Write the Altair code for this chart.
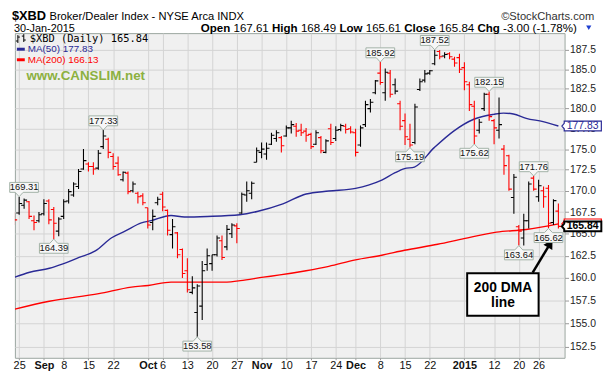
import altair as alt
import pandas as pd

# ---------------- data ----------------
# trading-day index: -1 = 22-Aug-2014 ... 109 = 30-Jan-2015
idx = list(range(-1, 110))
opens = [167.0, 167.4, 168.3, 168.7, 166.5, 166.5, 167.3, 168.8, 167.8, 165.3,
         167.0, 168.8, 169.5, 170.5, 172.6, 173.2, 172.9, 172.7, 175.3, 176.2,
         174.1, 173.3, 171.3, 172.1, 170.0, 169.7, 169.4, 168.0, 166.3, 168.6,
         169.6, 167.7, 164.9, 165.1, 163.2, 160.8, 158.4, 156.2, 156.9, 161.5,
         161.6, 162.6, 164.2, 163.5, 165.0, 165.9, 167.4, 169.5, 169.7, 173.4,
         174.6, 174.4, 175.6, 176.3, 176.4, 176.6, 177.6, 177.8, 177.3, 177.2,
         176.8, 175.6, 176.4, 174.6, 177.5, 176.3, 177.4, 177.8, 177.5, 177.0,
         175.5, 178.0, 180.0, 182.0, 184.5, 182.0, 184.5, 183.0, 180.6, 178.5,
         176.2, 175.8, 182.4, 183.6, 184.5, 185.7, 187.3, 186.7, 187.0, 186.3,
         186.5, 185.2, 183.0, 180.3, 177.3, 180.0, 181.8, 178.5, 177.3, 175.0,
         174.2, 169.2, 165.8, 164.5, 166.5, 171.5, 169.3, 170.0, 170.3, 166.3,
         167.61]
highs = [167.5, 169.31, 169.1, 168.8, 167.1, 167.5, 169.0, 169.0, 168.1, 166.9,
         169.0, 170.2, 171.0, 172.6, 175.0, 173.4, 173.4, 174.9, 177.33, 176.4,
         174.5, 174.1, 172.3, 172.3, 171.1, 169.9, 169.7, 168.0, 167.8, 169.3,
         169.9, 167.8, 166.7, 165.2, 163.3, 162.2, 160.2, 159.3, 161.9, 163.3,
         162.6, 164.8, 164.8, 166.0, 166.2, 166.2, 169.8, 171.1, 171.1, 175.2,
         175.8, 175.8, 177.0, 177.3, 176.6, 177.9, 178.5, 178.2, 178.1, 177.6,
         177.0, 177.3, 176.6, 176.2, 178.1, 177.8, 178.1, 178.1, 177.8, 177.5,
         177.9, 181.0, 181.2, 183.6, 185.92, 185.1, 184.9, 183.8, 181.0, 179.4,
         178.1, 180.6, 183.8, 184.9, 184.9, 187.52, 187.5, 187.2, 187.2, 186.6,
         187.0, 185.9, 183.4, 181.0, 178.7, 182.0, 182.15, 178.7, 181.4, 175.5,
         174.3, 172.0, 166.0, 167.3, 171.1, 171.76, 171.3, 170.5, 170.7, 169.0,
         168.49]
lows = [166.0, 167.2, 167.9, 166.7, 165.4, 166.3, 167.1, 166.1, 164.39, 164.7,
        166.7, 168.5, 169.3, 170.2, 172.5, 172.3, 171.9, 172.5, 175.0, 173.9,
        172.5, 171.8, 171.1, 169.6, 169.8, 168.5, 168.3, 165.6, 165.4, 168.3,
        167.6, 164.8, 163.3, 162.2, 160.0, 158.4, 158.2, 153.58, 155.4, 160.8,
        160.8, 162.4, 162.0, 163.1, 164.5, 163.9, 167.3, 168.7, 169.0, 173.4,
        173.9, 173.7, 175.5, 175.9, 174.6, 176.5, 176.9, 176.5, 176.6, 175.9,
        175.0, 175.5, 174.5, 174.5, 175.5, 176.0, 177.2, 176.9, 176.9, 174.1,
        175.3, 177.7, 179.5, 181.8, 183.0, 181.0, 181.4, 181.8, 177.3, 175.5,
        175.19, 175.6, 182.2, 183.3, 184.3, 185.5, 186.3, 186.4, 186.3, 185.3,
        184.5, 182.3, 179.7, 175.62, 176.9, 179.7, 178.5, 175.6, 176.3, 171.9,
        170.0, 167.3, 163.64, 163.64, 165.6, 170.0, 168.7, 168.0, 165.62, 166.0,
        165.61]
closes = [166.6, 168.5, 168.9, 167.0, 166.3, 167.2, 168.5, 166.6, 166.2, 166.7,
          168.7, 169.9, 170.8, 172.3, 173.6, 172.9, 172.6, 174.5, 176.6, 174.6,
          172.9, 171.9, 172.2, 169.9, 170.8, 169.3, 168.6, 166.0, 167.0, 169.0,
          168.1, 165.4, 165.8, 162.6, 160.5, 158.7, 158.9, 159.1, 160.8, 162.5,
          162.6, 164.5, 162.3, 165.5, 166.0, 165.6, 169.6, 170.0, 170.9, 174.8,
          175.0, 175.1, 176.7, 177.0, 175.4, 177.6, 178.0, 177.2, 177.0, 176.7,
          175.3, 177.0, 174.8, 176.0, 175.8, 177.3, 177.9, 177.4, 177.1, 174.6,
          177.6, 180.5, 180.8, 183.5, 183.3, 184.6, 181.8, 182.2, 177.8, 176.5,
          175.5, 180.2, 183.4, 184.4, 184.8, 186.8, 186.6, 186.9, 186.6, 185.8,
          185.0, 183.4, 180.5, 176.6, 178.3, 181.8, 179.0, 177.6, 178.0, 173.0,
          170.2, 171.6, 165.3, 166.5, 170.8, 170.2, 170.6, 169.3, 166.2, 168.84,
          165.84]

ma50_idx = [-0.86, 2.13, 6.12, 8.7, 12.1, 15.4, 18.7, 21.4, 24.7, 26.7, 30.7, 33.4,
            38.0, 44.6, 48.1, 53.3, 58.0, 62.6, 68.0, 70.6, 73.3, 75.9, 77.9, 79.9,
            83.9, 87.9, 91.9, 95.9, 97.9, 99.9, 102.5, 105.9, 109.0]
ma50_val = [160.09, 160.64, 161.08, 161.55, 162.30, 163.04, 164.54, 165.29, 166.24,
            166.51, 167.11, 166.93, 166.99, 167.19, 167.57, 168.46, 169.62, 169.97,
            170.29, 170.67, 171.26, 172.12, 172.64, 172.83, 175.18, 177.24, 178.67,
            179.28, 179.44, 179.32, 178.79, 178.37, 177.83]
ma200_idx = [-0.86, 6.1, 16.1, 22.7, 26.1, 30.7, 38.0, 42.0, 44.7, 49.4, 52.7, 58.0,
             62.6, 68.0, 73.3, 77.9, 84.6, 89.9, 96.5, 102.5, 109.0]
ma200_val = [156.57, 157.43, 158.26, 158.99, 159.17, 159.54, 159.54, 159.54, 159.71,
             160.09, 160.34, 160.81, 161.30, 162.03, 162.55, 163.11, 163.79, 164.43,
             165.18, 165.48, 166.13]

x_tick_idx = [0, 5, 9, 14, 19, 26, 29, 34, 39, 44, 49, 54, 59, 64, 68, 73, 78, 83, 90, 96, 101, 105]
x_tick_txt = ['25', 'Sep', '8', '15', '22', 'Oct', '6', '13', '20', '27', 'Nov', '10',
              '17', '24', 'Dec', '8', '15', '22', '2015', '12', '20', '26']
x_bold_idx = [5, 26, 49, 68, 90]
y_ticks = [152.5, 155.0, 157.5, 160.0, 162.5, 165.0, 167.5, 170.0, 172.5, 175.0,
           177.5, 180.0, 182.5, 185.0, 187.5]

hi_lbl_idx = [0, 17, 73, 84, 95, 104]
hi_lbl_val = [169.31, 177.33, 185.92, 187.52, 182.15, 171.76]
lo_lbl_idx = [7, 36, 79, 92, 101, 107]
lo_lbl_val = [164.39, 153.58, 175.19, 175.62, 163.64, 165.62]

last_close = 165.84
last_ma50 = 177.83
last_ma200 = 166.13

quote_parts = ["Open", "167.61", "High", "168.49", "Low", "165.61", "Close", "165.84", "Chg", "-3.00 (-1.78%)"]

# ---------------- styling ----------------
SANS = "Liberation Sans"
NAVY = "#2a2a96"
RED = "#ff0000"
W, H = 557, 329

xs = alt.Scale(domain=[-0.86, 110.25], nice=False, zero=False)
ys = alt.Scale(type="log", domain=[151.36, 189.70], nice=False, zero=False)

lab_expr = "[" + ",".join("'%s'" % t for t in x_tick_txt) + "][indexof([" + \
    ",".join(str(v) for v in x_tick_idx) + "], datum.value)]"
bold_test = "indexof([" + ",".join(str(v) for v in x_bold_idx) + "], datum.value) >= 0"

xaxis = alt.Axis(values=x_tick_idx, labelExpr=lab_expr, title=None, grid=True,
                 gridColor="#d3d3d3", tickSize=2, tickColor="#999999", labelPadding=0,
                 labelFont=SANS, labelFontSize=11, labelColor="#111111",
                 labelFontWeight={"condition": {"test": bold_test, "value": "bold"}, "value": "normal"},
                 domain=False, labelFlush=False, labelOverlap=False)
yaxis = alt.Axis(orient="right", values=y_ticks, format=".1f", title=None, grid=True,
                 gridColor="#d3d3d3", tickSize=4, tickColor="#999999", labelPadding=1,
                 labelFont=SANS, labelFontSize=10.5, labelColor="#222222",
                 domain=False, labelOverlap=False, labelFlush=False)


def X(f):
    return alt.X(f, scale=xs, axis=xaxis)


def Y(f):
    return alt.Y(f, scale=ys, axis=yaxis)


prev = [opens[0]] + closes[:-1]
df = pd.DataFrame({"i": idx, "o": opens, "h": highs, "l": lows, "c": closes,
                   "col": ["#000000" if c >= p else RED for c, p in zip(closes, prev)]})
base = alt.Chart(df)
color = alt.Color("col:N", scale=None)
bars_hl = base.mark_rule(strokeWidth=1.1, clip=True).encode(x=X("i:Q"), y=Y("l:Q"), y2="h:Q", color=color)
bars_o = base.transform_calculate(xl="datum.i - 0.6").mark_rule(strokeWidth=1.1, clip=True).encode(
    x=X("xl:Q"), x2="i:Q", y=Y("o:Q"), color=color)
bars_c = base.transform_calculate(xr="datum.i + 0.6").mark_rule(strokeWidth=1.1, clip=True).encode(
    x=X("i:Q"), x2="xr:Q", y=Y("c:Q"), color=color)

ma50 = alt.Chart(pd.DataFrame({"i": ma50_idx, "v": ma50_val})).mark_line(
    color=NAVY, strokeWidth=1.4, interpolate="monotone", clip=True).encode(x=X("i:Q"), y=Y("v:Q"))
ma200 = alt.Chart(pd.DataFrame({"i": ma200_idx, "v": ma200_val})).mark_line(
    color=RED, strokeWidth=1.4, interpolate="monotone", clip=True).encode(x=X("i:Q"), y=Y("v:Q"))

# price flags (the first one is nudged right so it stays inside the page)
HI_PATH = "M0,0 L-0.27,-0.29 L-0.97,-0.29 L-0.97,-0.96 L0.97,-0.96 L0.97,-0.29 L0.27,-0.29 Z"
HI_PATH_R = "M0,0 L-0.27,-0.29 L-0.64,-0.29 L-0.64,-0.96 L1.3,-0.96 L1.3,-0.29 L0.27,-0.29 Z"
LO_PATH = "M0,0 L0.27,0.29 L0.97,0.29 L0.97,0.96 L-0.97,0.96 L-0.97,0.29 L-0.27,0.29 Z"


def flags(i_list, v_list, path, dy, dx=0):
    d = pd.DataFrame({"i": i_list, "v": v_list, "t": ["%.2f" % v for v in v_list]})
    box = alt.Chart(d).mark_point(shape=path, size=900, filled=True, fill="#f7f7f7",
                                  stroke="#a2b2a7", strokeWidth=1, opacity=1).encode(x=X("i:Q"), y=Y("v:Q"))
    txt = alt.Chart(d).mark_text(dy=dy, dx=dx, font=SANS, fontSize=9.5, color="#111111",
                                 baseline="middle").encode(x=X("i:Q"), y=Y("v:Q"), text="t:N")
    return [box, txt]


# right-hand value boxes
R_PATH = "M0,0 L0.3,-0.35 L0.3,-0.62 L5.0,-0.62 L5.0,0.62 L0.3,0.62 L0.3,0.35 Z"
tip_i = 109.7


def rbox(val, stroke, sw, tcolor, weight, show_text=True):
    d = pd.DataFrame({"i": [tip_i], "v": [val], "t": ["%.2f" % val]})
    layers = [alt.Chart(d).mark_point(shape=R_PATH, size=256, filled=True, fill="#ffffff",
                                      stroke=stroke, strokeWidth=sw, opacity=1, clip=False).encode(
        x=X("i:Q"), y=Y("v:Q"))]
    if show_text:
        layers.append(alt.Chart(d).mark_text(dx=21, font=SANS, fontSize=10.5, fontWeight=weight,
                                             color=tcolor, baseline="middle", clip=False).encode(
            x=X("i:Q"), y=Y("v:Q"), text="t:N"))
    return layers


# callout "200 DMA line"
call_box = alt.Chart(pd.DataFrame({"x0": [90.56], "x1": [105.0], "y0": [160.53], "y1": [155.86]})).mark_rect(
    fill="white", stroke="black", strokeWidth=2).encode(x=X("x0:Q"), x2="x1:Q", y=Y("y0:Q"), y2="y1:Q")
call_txt = alt.Chart(pd.DataFrame({"i": [97.8, 97.8], "v": [158.92, 157.23], "t": ["200 DMA", "line"]})).mark_text(
    font=SANS, fontSize=14, fontWeight="bold", color="black", baseline="middle").encode(
    x=X("i:Q"), y=Y("v:Q"), text="t:N")
arrow_line = alt.Chart(pd.DataFrame({"a": [103.8], "b": [107.34], "p": [160.6], "q": [163.87]})).mark_rule(
    color="black", strokeWidth=2.5).encode(x=X("a:Q"), x2="b:Q", y=Y("p:Q"), y2="q:Q")
arrow_head = alt.Chart(pd.DataFrame({"i": [107.34], "v": [163.87]})).mark_point(
    shape="triangle-up", size=110, filled=True, color="black", opacity=1, angle=31).encode(x=X("i:Q"), y=Y("v:Q"))

# ---------------- text in pixel layout ----------------
dummy = pd.DataFrame({"k": [0]})


def T(s, px, py, **kw):
    kw.setdefault("baseline", "alphabetic")
    kw.setdefault("align", "left")
    return alt.Chart(dummy).mark_text(text=s, clip=False, **kw).encode(x=alt.value(px), y=alt.value(py))


def R(x1, x2, y1, y2, col, sw):
    return alt.Chart(dummy).mark_rule(color=col, strokeWidth=sw, clip=False).encode(
        x=alt.value(x1), x2=alt.value(x2), y=alt.value(y1), y2=alt.value(y2))


hdr = [
    T("$XBD", -3, -12.8, font=SANS, fontSize=13, fontWeight="bold", color="#000000"),
    T("Broker/Dealer Index - NYSE Arca INDX", 35, -13, font=SANS, fontSize=11.3, color="#000000"),
    T("\u00a9StockCharts.com", 587, -13, align="right", font=SANS, fontSize=11.3, color="#333333"),
    T("30-Jan-2015", -1, -1.5, font=SANS, fontSize=11, color="#000000"),
]
quote_x = [188.3, 221.5, 260.5, 289.8, 328.8, 355.5, 394.5, 429.7, 468.7, 494.7]
for k, (s, px) in enumerate(zip(quote_parts, quote_x)):
    hdr.append(T(s, px, -1.5, font=SANS, fontSize=11.7, fontWeight="bold" if k % 2 == 0 else "normal",
                 color="#000000"))
hdr.append(alt.Chart(dummy).mark_point(shape="triangle-down", size=28, filled=True, color="#1f3fd0",
                                       opacity=1, clip=False).encode(x=alt.value(581.5), y=alt.value(-5.5)))

legend = [
    R(3, 3, 2, 10, "#000000", 1), R(1, 3, 8, 8, "#000000", 1), R(3, 5, 4, 4, "#000000", 1),
    R(9, 9, 1, 9, "#000000", 1), R(7, 9, 3, 3, "#000000", 1), R(9, 11, 7, 7, "#000000", 1),
    T("$XBD (Daily) 165.84", 15, 6, baseline="middle", font="DejaVu Sans Mono", fontSize=10.5, color="#000000"),
    R(2, 10, 16.3, 16.3, NAVY, 3),
    T("MA(50) 177.83", 13, 16.5, baseline="middle", font=SANS, fontSize=10, color=NAVY),
    R(2, 10, 27, 27, RED, 3),
    T("MA(200) 166.13", 13, 27.2, baseline="middle", font=SANS, fontSize=10, color=RED),
    T("www.CANSLIM.net", 11.7, 43.7, baseline="middle", font=SANS, fontSize=13.5, fontWeight="bold",
      color="#8cb040"),
]

layers = [ma200, ma50, bars_hl, bars_o, bars_c, arrow_line, arrow_head, call_box, call_txt]
layers += flags(hi_lbl_idx[:1], hi_lbl_val[:1], HI_PATH_R, -9.4, dx=5)
layers += flags(hi_lbl_idx[1:], hi_lbl_val[1:], HI_PATH, -9.4)
layers += flags(lo_lbl_idx, lo_lbl_val, LO_PATH, 9.4)
layers += rbox(last_ma200, RED, 1.2, RED, "normal", show_text=False)
layers += rbox(last_close, "#000000", 2, "#000000", "bold")
layers += rbox(last_ma50, NAVY, 1.2, NAVY, "normal")
layers += legend + hdr

chart = alt.layer(*layers).properties(
    width=W, height=H,
    autosize=alt.AutoSizeParams(type="none"),
    padding={"left": 7, "top": 23, "right": 44, "bottom": 16},
).configure(background="white").configure_view(fill="#f0f0f0", stroke="#9aa6a0", strokeWidth=1)

chart.save("out.html", embed_options={"renderer": "svg", "actions": False})
